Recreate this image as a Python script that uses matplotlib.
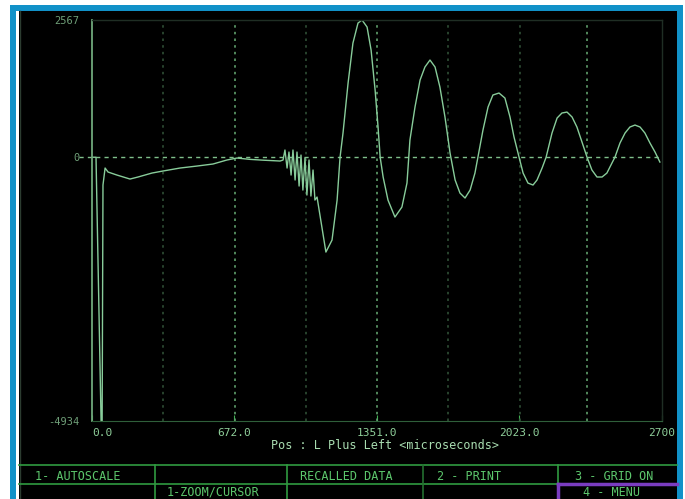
import matplotlib
matplotlib.use('Agg')
import matplotlib.pyplot as plt
from matplotlib.patches import Rectangle
from matplotlib.lines import Line2D

# trace (time in microseconds, amplitude in raw units)
time_us = [0, 19, 43, 48, 52, 62, 76, 118, 180, 218, 284, 336, 417, 497, 573, 639, 687,
           748, 810, 891,
           905, 914, 924, 933, 943, 952, 962, 971, 981, 990, 999, 1009, 1018, 1028, 1037,
           1047, 1056, 1066,
           1108, 1137, 1161, 1175, 1189, 1213, 1236, 1260, 1279, 1303, 1322, 1341, 1355,
           1365, 1379, 1402, 1435, 1468, 1492, 1506, 1530, 1554, 1577, 1601, 1625, 1648,
           1672, 1696, 1720, 1743, 1767, 1791, 1814, 1828, 1852, 1876, 1899, 1928, 1956,
           1980, 1999, 2023, 2042, 2065, 2089, 2108, 2132, 2151, 2179, 2203, 2226, 2250,
           2274, 2297, 2321, 2345, 2368, 2392, 2416, 2439, 2463, 2477, 2501, 2525, 2548,
           2572, 2596, 2619, 2643, 2667, 2690]
amplitude = [0, 0, -4934, -4934, -520, -202, -277, -333, -408, -370, -296, -258, -202, -165,
             -127, -52, -15,
             -40, -55, -71,
             -52, 135, -202, 97, -333, 135, -426, 97, -539, 41, -614, -15, -707, -52, -726,
             -239, -801, -745,
             -1774, -1549, -801, 0, 453, 1388, 2135, 2510, 2567, 2435, 2005, 1257, 565,
             0, -370, -801, -1119, -932, -483, 322, 939, 1444, 1687, 1818, 1687, 1313,
             752, 79, -426, -670, -763, -614, -296, 0, 509, 939, 1164, 1201, 1107,
             752, 378, 0, -296, -483, -520, -426, -202, 0, 453, 733, 827, 845,
             752, 565, 284, 0, -239, -370, -370, -296, -108, 0, 266, 453, 565,
             602, 565, 453, 266, 97, -90]

y_ticks = [-4934, 0, 2567]
y_labels = ['-4934', '0', '2567']
x_ticks = [0, 672, 1351, 2023, 2700]
x_labels = ['0.0', '672.0', '1351.0', '2023.0', '2700']
grid_x = [337.5, 675, 1012.5, 1350, 1687.5, 2025, 2345]
grid_bright = [False, True, False, True, False, False, True]
x_title = 'Pos : L Plus Left <microseconds>'

menu_row1 = [('1- AUTOSCALE', 35), ('RECALLED DATA', 300), ('2 - PRINT', 437), ('3 - GRID ON', 575)]
menu_row2 = [('1-ZOOM/CURSOR', 167), ('4 - MENU', 583)]

W, H = 685, 499
mono = 'DejaVu Sans Mono'
BLUE = '#1191c8'
GREEN = '#2f9a40'
TXT = '#5cc66c'
TRACE = '#88cc9a'

fig = plt.figure(figsize=(W / 100, H / 100), dpi=100, facecolor='white')


def fx(px):
    return px / W


def fy(py):
    return 1 - py / H


def rect(x0, y0, x1, y1, color, z=0):
    fig.add_artist(Rectangle((fx(x0), fy(y1)), fx(x1) - fx(x0), fy(y0) - fy(y1),
                             transform=fig.transFigure, facecolor=color,
                             edgecolor='none', zorder=z))


def hline(y, x0, x1, color, lw=1.2, z=3):
    fig.add_artist(Line2D([fx(x0), fx(x1)], [fy(y), fy(y)], transform=fig.transFigure,
                          color=color, lw=lw, zorder=z))


def vline(x, y0, y1, color, lw=1.2, z=3):
    fig.add_artist(Line2D([fx(x), fx(x)], [fy(y0), fy(y1)], transform=fig.transFigure,
                          color=color, lw=lw, zorder=z))


# frame of the screenshot
rect(10, 5, 683, 11, BLUE)
rect(10, 5, 16, H, BLUE)
rect(677, 5, 683, H, BLUE)
rect(19, 11, 677, H, 'black')
vline(19.5, 11, H, '#2c3c30', lw=1)

# scope plot
ax = fig.add_axes([fx(92), fy(421), fx(662) - fx(92), fy(20) - fy(421)])
ax.set_zorder(5)
ax.set_facecolor('black')
ax.set_xlim(0, 2700)
ax.set_ylim(-4934, 2567)

for gx, br in zip(grid_x, grid_bright):
    ax.axvline(gx, color='#5f9f6c' if br else '#2f4f36', lw=1.2, ls=(0, (1.5, 2.5)))
ax.plot([-60, 2700], [0, 0], color='#7fbf8a', lw=1, ls=(0, (3, 3)), clip_on=False)
ax.plot(time_us, amplitude, color=TRACE, lw=1.0)

for side in ['top', 'right']:
    ax.spines[side].set_color('#1f2e24')
    ax.spines[side].set_linewidth(1)
ax.spines['bottom'].set_color('#2f5f3a')
ax.spines['left'].set_color('#6fa87a')
ax.spines['left'].set_linewidth(1.3)

ax.set_yticks(y_ticks)
ax.set_yticklabels(y_labels, family=mono, fontsize=7.5, color='#6f9f78')
ax.tick_params(axis='y', length=0, pad=9)
ax.set_xticks(x_ticks)
ax.set_xticklabels(x_labels, family=mono, fontsize=8, color='#8fcf9a')
ax.tick_params(axis='x', length=4, direction='in', color='#3fae50', pad=5)
ax.get_xticklabels()[0].set_ha('left')
ax.set_xlabel(x_title, family=mono, fontsize=8.5, color='#a8dcb0', labelpad=0)
ax.xaxis.set_label_coords((fx(385) - fx(92)) / (fx(662) - fx(92)), -0.045)

# menu table
hline(465, 19, 677, GREEN)
hline(484, 19, 558, GREEN)
vline(155, 465, H, GREEN)
vline(287, 465, H, GREEN)
vline(423, 465, H, '#246f30')
vline(558, 465, 484, GREEN)
PURPLE = '#7a3cc0'
hline(484, 558, 677, PURPLE, lw=2.5, z=4)
vline(558, 484, H, PURPLE, lw=2.5, z=4)

for label, x in menu_row1:
    fig.text(fx(x), fy(476), label, family=mono, fontsize=8.5, color=TXT,
             va='center', ha='left', zorder=6)
for label, x in menu_row2:
    fig.text(fx(x), fy(492), label, family=mono, fontsize=8.5, color=TXT,
             va='center', ha='left', zorder=6)

fig.savefig('out.png', dpi=100, facecolor='white')
